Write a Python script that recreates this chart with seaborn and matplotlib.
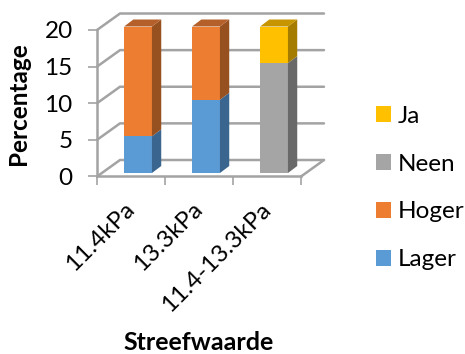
import pandas as pd
import matplotlib.pyplot as plt
from matplotlib.patches import Patch, Polygon
from matplotlib.transforms import ScaledTranslation
import seaborn as sns

# values
categories = ['11.4kPa', '13.3kPa', '11.4-13.3kPa']
lager = [5, 10, 0]
hoger = [15, 10, 0]
neen = [0, 0, 15]
ja = [0, 0, 5]
y_ticks = [0, 5, 10, 15, 20]

series_names = ['Lager', 'Hoger', 'Neen', 'Ja']
series_values = [lager, hoger, neen, ja]
front_colors = ['#5B9BD5', '#ED7D31', '#A5A5A5', '#FFC000']
side_colors = ['#39658E', '#97501F', '#696969', '#A67C00']
top_colors = ['#4A80B0', '#B5602A', '#858585', '#C69500']
wall_color = '#A3A3A3'

W, H = 465, 354

sns.set_theme(style='white')
plt.rcParams['font.family'] = ['Lato', 'DejaVu Sans']

fig = plt.figure(figsize=(W / 100, H / 100), dpi=100)


def place(left, top, right, bottom):
    return fig.add_axes([left / W, 1 - bottom / H, (right - left) / W, (bottom - top) / H])


# front frame of the chart, ticks and labels live here
ax = place(97, 30, 301, 176.5)
ax.set_xlim(-0.5, 2.5)
ax.set_ylim(0, 20)
ax.patch.set_alpha(0)

# depth of the walls in data units
wall_dx = 23 / 68
wall_dy = 16.5 / 7.325
for t in y_ticks:
    ax.plot([-0.5, -0.5 + wall_dx, 2.5 + wall_dx], [t, t + wall_dy, t + wall_dy],
            color=wall_color, lw=1.8, clip_on=False, solid_joinstyle='miter')
ax.plot([2.5, 2.5 + wall_dx], [0, wall_dy], color=wall_color, lw=1.8, clip_on=False)

sns.despine(ax=ax, top=True, right=True)
for side in ['left', 'bottom']:
    ax.spines[side].set_color(wall_color)
    ax.spines[side].set_linewidth(1.8)
ax.set_yticks(y_ticks)
ax.set_xticks([-0.5, 0.5, 1.5, 2.5])
ax.set_xticklabels([])
ax.tick_params(axis='both', color=wall_color, width=1.2, length=6.5, left=True, bottom=True,
               labelsize=17.5, labelcolor='black')
ax.tick_params(axis='y', pad=11)
# labels sit at the category centres, ticks between them
ax.set_xticks([0, 1, 2], labels=categories, minor=True, rotation=45, ha='right',
              rotation_mode='anchor', fontsize=17.5, color='black')
ax.tick_params(axis='x', which='minor', length=0, pad=16, bottom=True)
label_shift = ScaledTranslation(-7 / 100, 0, fig.dpi_scale_trans)
for lab in ax.get_xticklabels(minor=True):
    lab.set_transform(lab.get_transform() + label_shift)

# bars are a bit in front of the back wall, so they get their own axes
bar_ax = place(104, 26.5, 308, 173)
bar_ax.set_xlim(-0.5, 2.5)
bar_ax.set_ylim(0, 20)
bar_ax.axis('off')

df = pd.DataFrame({'cat': categories})
bottoms = [0, 0, 0]
for name, vals, fc, sc, tc in zip(series_names, series_values, front_colors, side_colors, top_colors):
    df['val'] = vals
    before = len(bar_ax.patches)
    sns.barplot(data=df, x='cat', y='val', bottom=bottoms, color=fc, saturation=1, width=0.41,
                order=categories, ax=bar_ax, linewidth=0)
    new_bars = list(bar_ax.patches[before:])
    bottoms = [b + v for b, v in zip(bottoms, vals)]
    # 3D faces from the bar geometry
    for bar, v in zip(new_bars, vals):
        if v == 0:
            continue
        x0, x1 = bar.get_x(), bar.get_x() + bar.get_width()
        y0, y1 = bar.get_y(), bar.get_y() + bar.get_height()
        dx = 9.3 / 68
        dy = 7 / 7.325
        bar_ax.add_patch(Polygon([(x1, y0), (x1 + dx, y0 + dy), (x1 + dx, y1 + dy), (x1, y1)],
                                 fc=sc, ec='none', clip_on=False))
        if y1 >= 20:
            bar_ax.add_patch(Polygon([(x0, y1), (x0 + dx, y1 + dy), (x1 + dx, y1 + dy), (x1, y1)],
                                     fc=tc, ec='none', clip_on=False))
        bar.set_clip_on(False)
bar_ax.set_xlim(-0.5, 2.5)
bar_ax.set_ylim(0, 20)
bar_ax.set_xlabel('')
bar_ax.set_ylabel('')

ax.set_xlabel('')
ax.set_ylabel('')
fig.text(18 / W, 1 - 104 / H, 'Percentage', rotation=90, ha='center', va='center',
         fontsize=17.5, fontweight='bold', color='black')
fig.text(199 / W, 1 - 343 / H, 'Streefwaarde', ha='center', va='center',
         fontsize=18, fontweight='bold', color='black')

handles = [Patch(fc=c, ec='none', label=n) for n, c in zip(series_names[::-1], front_colors[::-1])]
fig.legend(handles=handles, loc='center left', bbox_to_anchor=(376 / W, 1 - 188 / H), frameon=False,
           fontsize=17.5, labelspacing=1.11, handlelength=0.62, handleheight=0.62, handletextpad=0.29,
           borderpad=0, borderaxespad=0, labelcolor='black')

fig.savefig('out.png', dpi=100)
